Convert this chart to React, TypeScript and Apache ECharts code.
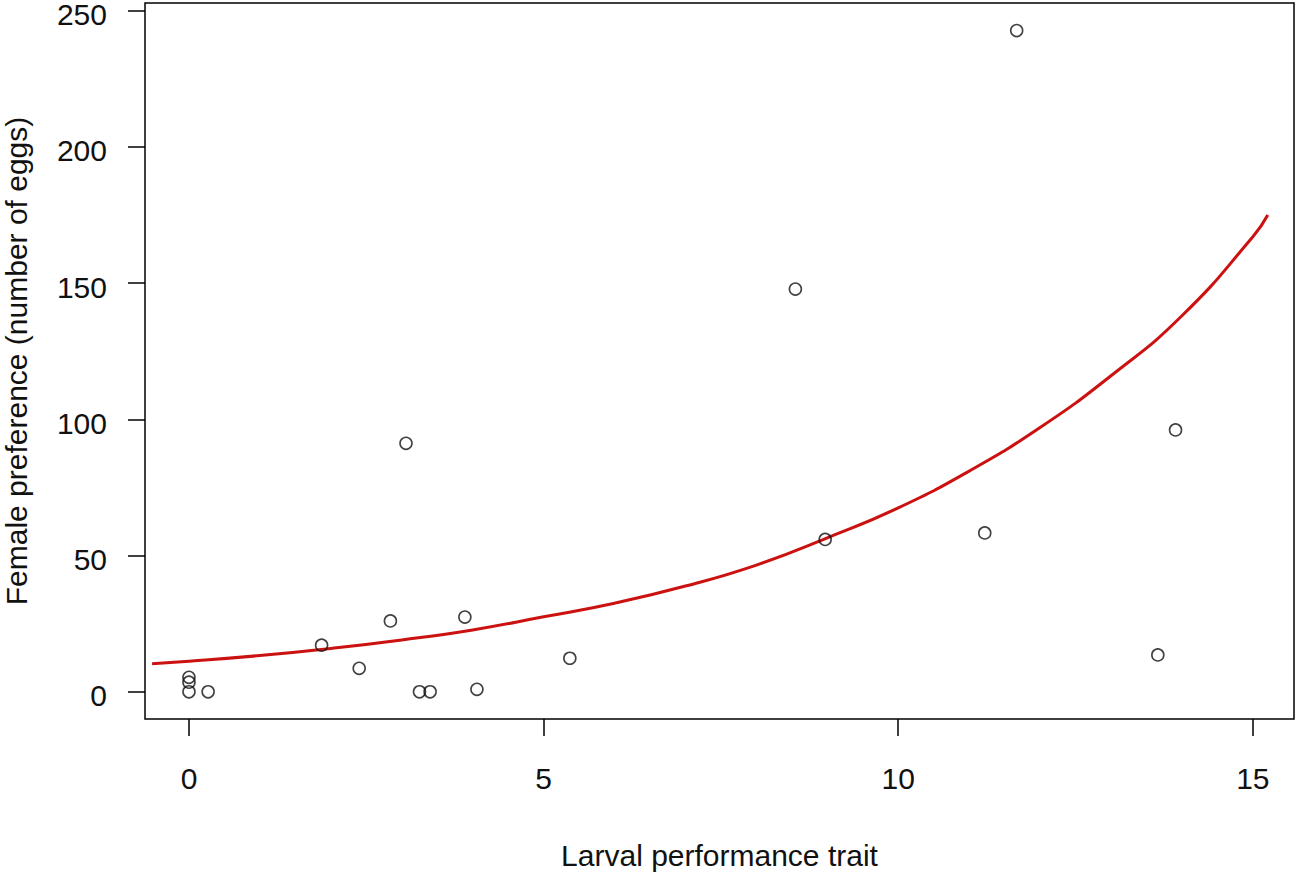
import React, { useEffect, useRef } from "react";
import * as echarts from "echarts";

const pointX = [0, 0, 0, 0.27, 1.87, 2.4, 2.84, 3.06, 3.25, 3.4, 3.89, 4.06, 5.37, 8.55, 8.97, 11.22, 11.67, 13.66, 13.91];
const pointY = [0, 3.5, 5.3, 0, 17.1, 8.6, 26, 91.2, 0, 0, 27.4, 0.9, 12.3, 147.8, 55.9, 58.3, 242.7, 13.5, 96.1];

const curveX = [-0.52, 0, 1, 2, 3, 4, 5, 6, 7, 8, 9, 10, 11, 12, 13, 14, 15, 15.21];
const curveY = [10.3, 11.2, 13.3, 15.9, 19.0, 22.7, 27.5, 32.5, 38.8, 46.5, 56.5, 67.5, 81, 97, 116, 138, 167, 175];

const xTicks = [0, 5, 10, 15];
const yTicks = [0, 50, 100, 150, 200, 250];

const xTitle = "Larval performance trait";
const yTitle = "Female preference (number of eggs)";

export default function App() {
  const ref = useRef<HTMLDivElement>(null);
  useEffect(() => {
    document.body.style.margin = "0";
    const chart = echarts.init(ref.current!, null, { renderer: "svg" });
    const font = "Liberation Sans, Arial, sans-serif";
    const tickLine = { color: "#000", width: 1.5 };
    chart.setOption({
      animation: false,
      backgroundColor: "#ffffff",
      grid: [
        {
          // data grid spanning the whole canvas, so ticks stay inside it
          left: 0,
          right: 0,
          top: 0,
          bottom: 0,
          show: false,
          containLabel: false,
          outerBoundsMode: "none",
        },
        {
          // plot box
          left: 145,
          right: 6,
          top: 3,
          bottom: 154,
          show: true,
          borderColor: "#000",
          borderWidth: 1.5,
          backgroundColor: "transparent",
          containLabel: false,
          outerBoundsMode: "none",
        },
      ],
      xAxis: [
        {
          type: "value",
          gridIndex: 0,
          min: -2.6643,
          max: 15.6646,
          position: "bottom",
          offset: -154,
          axisLine: { show: false, onZero: false },
          splitLine: { show: false },
          axisTick: {
            show: true,
            inside: false,
            length: 17,
            customValues: xTicks,
            lineStyle: tickLine,
          },
          axisLabel: {
            customValues: xTicks,
            margin: 44,
            fontSize: 30,
            fontFamily: font,
            color: "#111",
          },
        },
        {
          type: "value",
          gridIndex: 1,
          min: -0.62,
          max: 15.58,
          name: xTitle,
          nameLocation: "middle",
          nameGap: 121,
          nameTextStyle: { fontSize: 30, fontFamily: font, color: "#111" },
          axisLine: { show: false, onZero: false },
          splitLine: { show: false },
          axisTick: { show: false },
          axisLabel: { show: false },
        },
      ],
      yAxis: [
        {
          type: "value",
          gridIndex: 0,
          min: -66.52,
          max: 253.9,
          position: "left",
          offset: -145,
          axisLine: { show: false, onZero: false },
          splitLine: { show: false },
          axisTick: {
            show: true,
            inside: false,
            length: 17,
            customValues: yTicks,
            lineStyle: tickLine,
          },
          axisLabel: {
            customValues: yTicks,
            margin: 38,
            fontSize: 30,
            fontFamily: font,
            color: "#111",
            verticalAlign: "top",
            lineHeight: 8,
          },
        },
        {
          type: "value",
          gridIndex: 1,
          min: -10,
          max: 252.8,
          name: yTitle,
          nameLocation: "middle",
          nameGap: 114,
          nameRotate: 90,
          nameTextStyle: { fontSize: 30, fontFamily: font, color: "#111" },
          axisLine: { show: false, onZero: false },
          splitLine: { show: false },
          axisTick: { show: false },
          axisLabel: { show: false },
        },
      ],
      series: [
        {
          type: "line",
          xAxisIndex: 0,
          yAxisIndex: 0,
          data: curveX.map((x, i) => [x, curveY[i]]),
          smooth: true,
          showSymbol: false,
          lineStyle: { color: "#cc1111", width: 3 },
          z: 2,
        },
        {
          type: "scatter",
          xAxisIndex: 0,
          yAxisIndex: 0,
          data: pointX.map((x, i) => [x, pointY[i]]),
          symbol: "circle",
          symbolSize: 12,
          itemStyle: { color: "transparent", borderColor: "#111", borderWidth: 1.6 },
          z: 3,
        },
      ],
    });
    return () => chart.dispose();
  }, []);
  return <div ref={ref} style={{ position: "fixed", left: 0, top: 0, width: 1300, height: 873 }} />;
}
